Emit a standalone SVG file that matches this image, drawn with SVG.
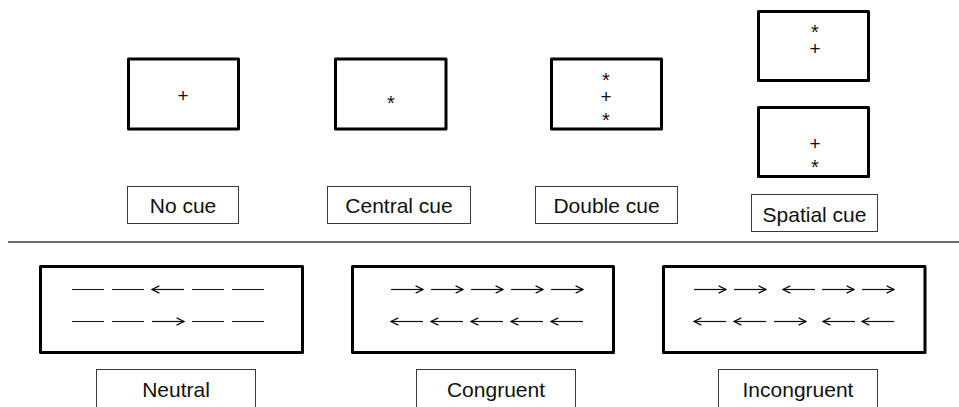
<svg xmlns="http://www.w3.org/2000/svg" width="959" height="407" viewBox="0 0 959 407">
  <style>
    .screen { fill: #fff; stroke: #000; stroke-width: 3; stroke-linejoin: round; }
    .label { fill: #fff; stroke: #3a3a3a; stroke-width: 1; }
    .txt { font-family: "Liberation Sans", Arial, sans-serif; font-size: 21px; fill: #111; text-anchor: middle; }
    .plus { font-family: "Liberation Sans", Arial, sans-serif; font-size: 19px; fill: #111; text-anchor: middle; }
    .star { font-family: "Liberation Sans", Arial, sans-serif; font-size: 20px; fill: #111; text-anchor: middle; }
    .flank { stroke: #111; stroke-width: 1.2; fill: none; }
    .arrow { stroke: #111; stroke-width: 1.2; fill: none; marker-end: url(#head); }
  </style>
  <defs>
    <marker id="head" viewBox="0 0 10 10" refX="9.2" refY="5" markerWidth="9" markerHeight="9" markerUnits="userSpaceOnUse" orient="auto">
      <path d="M1,1 L9.2,5 L1,9" fill="none" stroke="#111" stroke-width="1.4" stroke-linejoin="miter"/>
    </marker>
  </defs>
  <rect width="959" height="407" fill="#fff"/>

  <!-- cue conditions -->
  <g id="no-cue">
    <rect class="screen" x="128.5" y="59" width="110" height="70"/>
    <text class="plus" x="183" y="101.5">+</text>
    <rect class="label" x="127.5" y="186.5" width="111" height="37"/>
    <text class="txt" x="183" y="213">No cue</text>
  </g>

  <g id="central-cue">
    <rect class="screen" x="335.5" y="59" width="110.5" height="70"/>
    <text class="star" x="391" y="109.5">*</text>
    <rect class="label" x="327.5" y="186.5" width="143" height="37"/>
    <text class="txt" x="399" y="213">Central cue</text>
  </g>

  <g id="double-cue">
    <rect class="screen" x="551.5" y="59" width="110" height="70"/>
    <text class="star" x="606" y="86.5">*</text>
    <text class="plus" x="606" y="102.5">+</text>
    <text class="star" x="606" y="126.5">*</text>
    <rect class="label" x="535.5" y="186.5" width="142" height="37"/>
    <text class="txt" x="606.5" y="213">Double cue</text>
  </g>

  <g id="spatial-cue">
    <rect class="screen" x="758.5" y="11.5" width="110" height="69"/>
    <text class="star" x="815" y="38.5">*</text>
    <text class="plus" x="815" y="54.5">+</text>
    <rect class="screen" x="758.5" y="107.5" width="110" height="69"/>
    <text class="plus" x="815" y="149.5">+</text>
    <text class="star" x="815" y="173.5">*</text>
    <rect class="label" x="751.5" y="194.5" width="126" height="37"/>
    <text class="txt" x="814.5" y="222">Spatial cue</text>
  </g>

  <!-- separator between cue and target rows -->
  <line x1="8" y1="242" x2="959" y2="242" stroke="#6b6b6b" stroke-width="2"/>

  <!-- target conditions -->
  <g id="neutral">
    <rect class="screen" x="40.5" y="266.5" width="262" height="86"/>
    <path class="flank" d="M72,289.5 H104 M112,289.5 H144 M192,289.5 H224 M232,289.5 H264"/>
    <line class="arrow" x1="184" y1="289.5" x2="152" y2="289.5"/>
    <path class="flank" d="M72,321.5 H104 M112,321.5 H144 M192,321.5 H224 M232,321.5 H264"/>
    <line class="arrow" x1="152" y1="321.5" x2="184" y2="321.5"/>
    <rect class="label" x="96.5" y="369.5" width="159" height="60"/>
    <text class="txt" x="176" y="397">Neutral</text>
  </g>

  <g id="congruent">
    <rect class="screen" x="352.5" y="266.5" width="261" height="86"/>
    <line class="arrow" x1="391" y1="289.5" x2="423" y2="289.5"/>
    <line class="arrow" x1="431" y1="289.5" x2="463" y2="289.5"/>
    <line class="arrow" x1="471" y1="289.5" x2="503" y2="289.5"/>
    <line class="arrow" x1="511" y1="289.5" x2="543" y2="289.5"/>
    <line class="arrow" x1="551" y1="289.5" x2="583" y2="289.5"/>
    <line class="arrow" x1="423" y1="321.5" x2="391" y2="321.5"/>
    <line class="arrow" x1="463" y1="321.5" x2="431" y2="321.5"/>
    <line class="arrow" x1="503" y1="321.5" x2="471" y2="321.5"/>
    <line class="arrow" x1="543" y1="321.5" x2="511" y2="321.5"/>
    <line class="arrow" x1="583" y1="321.5" x2="551" y2="321.5"/>
    <rect class="label" x="416.5" y="369.5" width="159" height="60"/>
    <text class="txt" x="496" y="397">Congruent</text>
  </g>

  <g id="incongruent">
    <rect class="screen" x="663.5" y="266.5" width="261.5" height="86"/>
    <line class="arrow" x1="694" y1="289.5" x2="726" y2="289.5"/>
    <line class="arrow" x1="734" y1="289.5" x2="766" y2="289.5"/>
    <line class="arrow" x1="815" y1="289.5" x2="783" y2="289.5"/>
    <line class="arrow" x1="822" y1="289.5" x2="854" y2="289.5"/>
    <line class="arrow" x1="862" y1="289.5" x2="894" y2="289.5"/>
    <line class="arrow" x1="726" y1="321.5" x2="694" y2="321.5"/>
    <line class="arrow" x1="766" y1="321.5" x2="734" y2="321.5"/>
    <line class="arrow" x1="774" y1="321.5" x2="806" y2="321.5"/>
    <line class="arrow" x1="855" y1="321.5" x2="823" y2="321.5"/>
    <line class="arrow" x1="894" y1="321.5" x2="862" y2="321.5"/>
    <rect class="label" x="718.5" y="369.5" width="159" height="60"/>
    <text class="txt" x="798" y="397">Incongruent</text>
  </g>
</svg>
